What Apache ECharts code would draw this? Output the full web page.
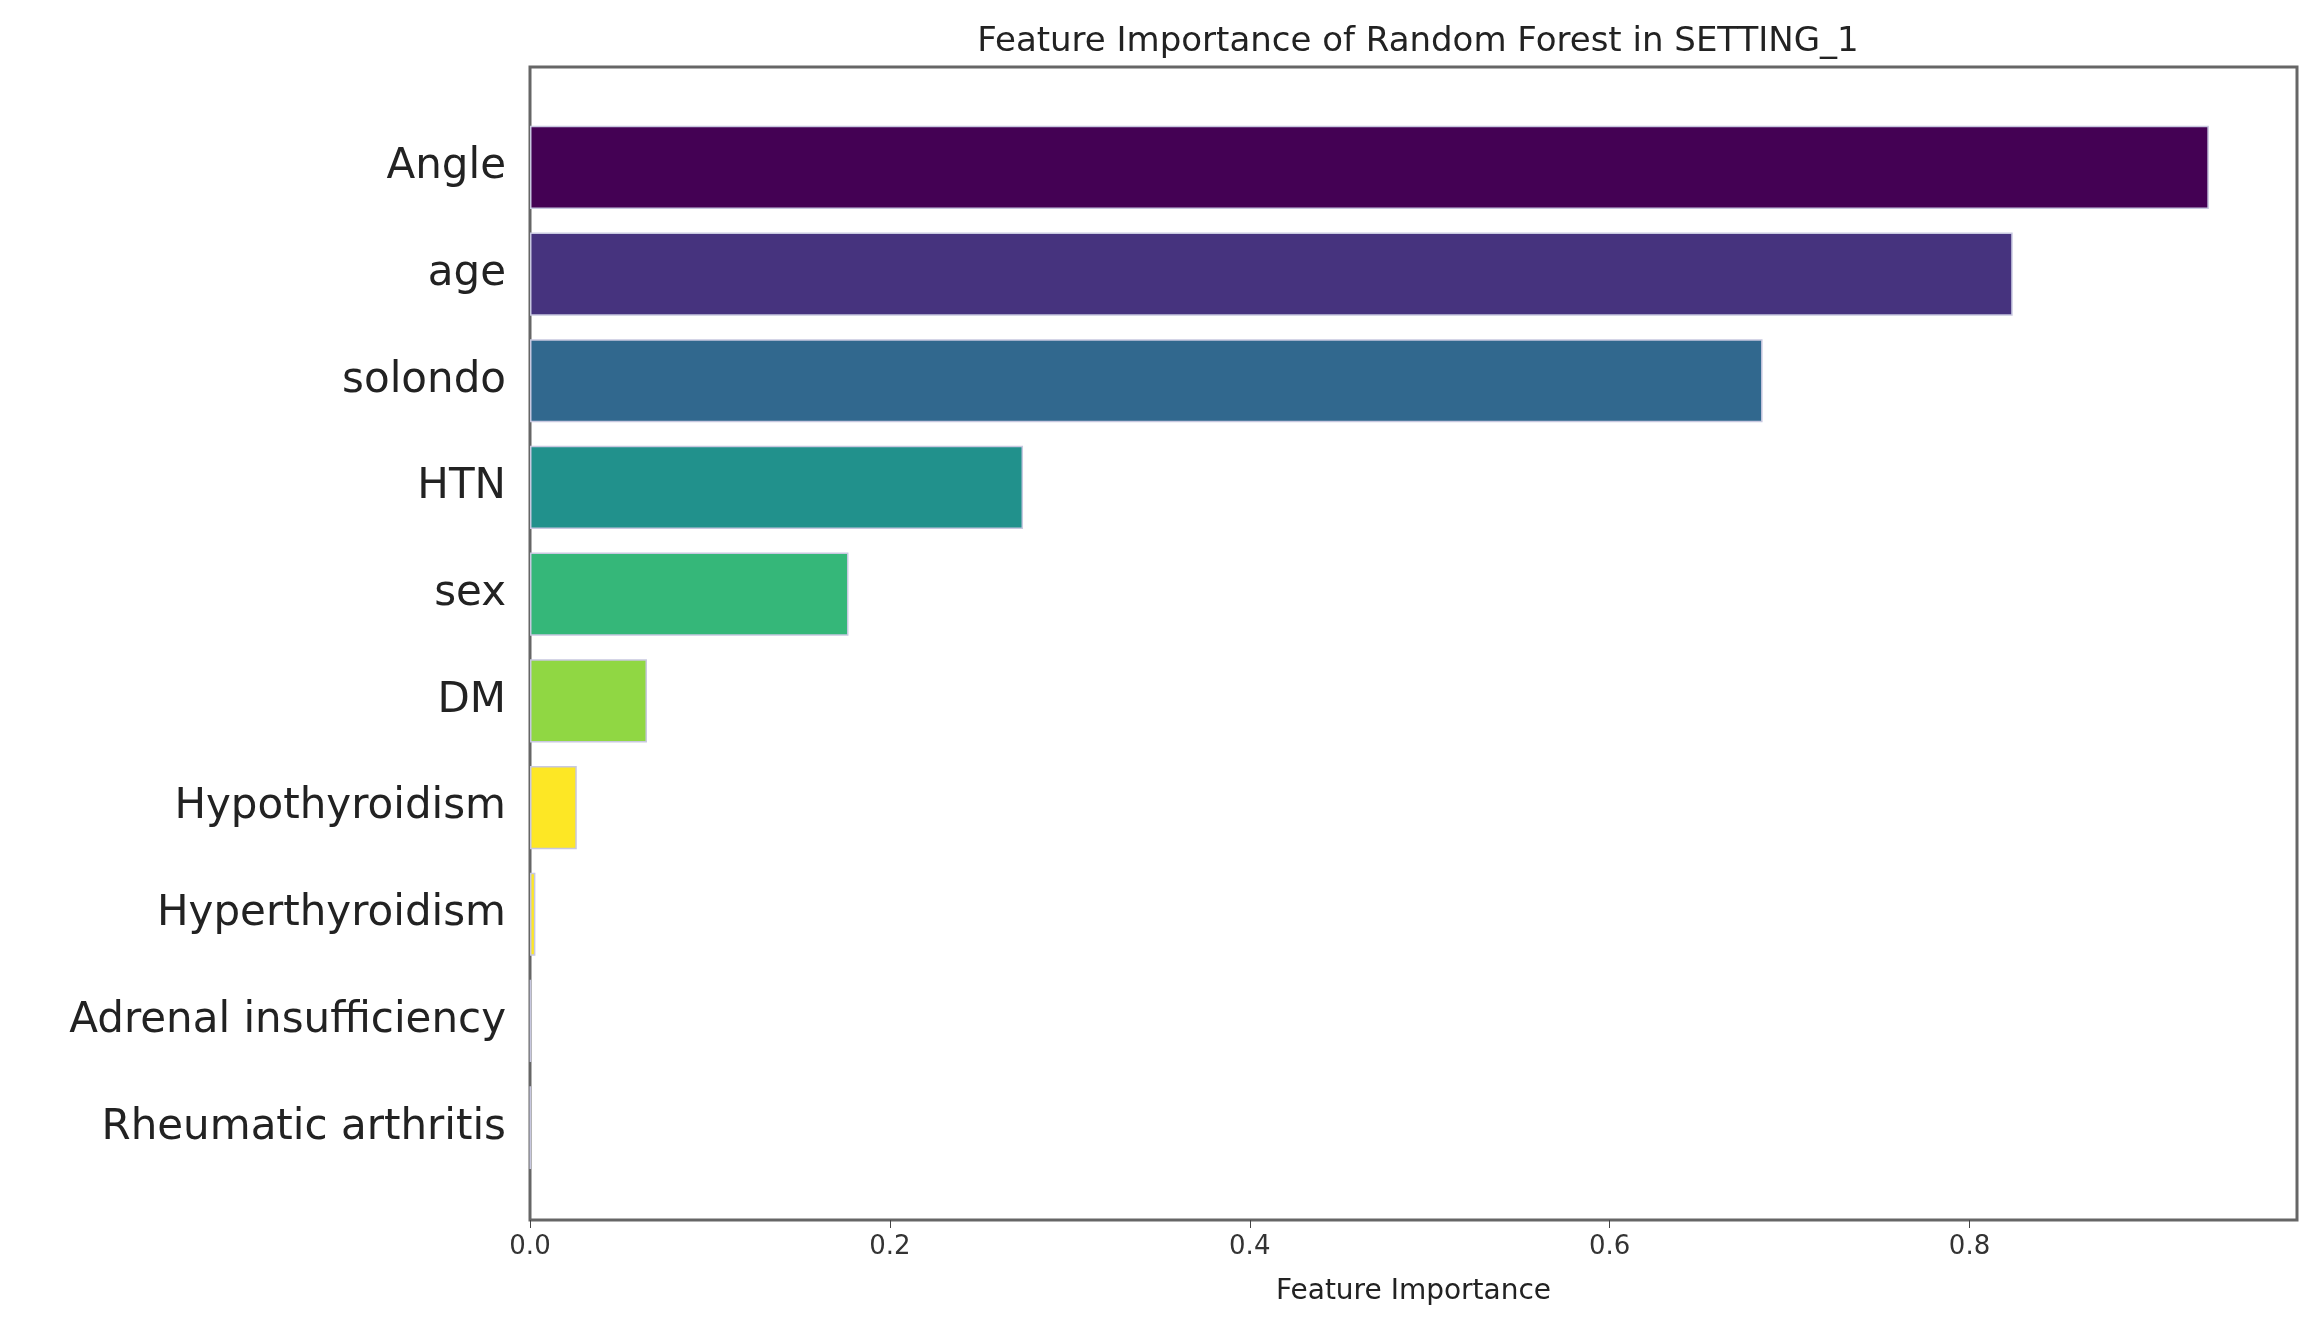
<!DOCTYPE html>
<html>
<head>
<meta charset="utf-8">
<script src="https://cdn.jsdelivr.net/npm/echarts@6/dist/echarts.min.js"></script>
<style>html,body{margin:0;padding:0;background:#fff}#chart{width:2315px;height:1340px}</style>
</head>
<body>
<div id="chart"></div>
<script>
// top to bottom in the picture
const features = ['Angle', 'age', 'solondo', 'HTN', 'sex', 'DM', 'Hypothyroidism', 'Hyperthyroidism', 'Adrenal insufficiency', 'Rheumatic arthritis'];
const importance = [0.933, 0.824, 0.685, 0.274, 0.177, 0.065, 0.026, 0.003, 0.0005, 0.0003];
const barColors = ['#440154', '#46337e', '#31688e', '#21918c', '#35b779', '#90d743', '#fde725', '#fde725', '#fde725', '#fde725'];
const xTicks = [0, 0.2, 0.4, 0.6, 0.8];

var myChart = echarts.init(document.getElementById('chart'));

var option = {
    animation: false,
    title: {
        text: 'Feature Importance of Random Forest in SETTING_1',
        left: 1413, top: 20, textAlign: 'center',
        textStyle: { fontFamily: 'DejaVu Sans', fontSize: 34, fontWeight: 'normal', color: '#222' }
    },
    grid: { left: 530, right: 18, top: 114, bottom: 159 },
    xAxis: {
        type: 'value', min: 0, max: 0.982, interval: 0.2, offset: 39,
        name: 'Feature Importance', nameLocation: 'middle', nameGap: 58,
        nameTextStyle: { fontFamily: 'DejaVu Sans', fontSize: 28, color: '#222' },
        axisLine: { show: false },
        axisTick: { show: true, length: 8, lineStyle: { color: '#444' } },
        splitLine: { show: false },
        axisLabel: {
            showMaxLabel: false, margin: 14,
            fontFamily: 'DejaVu Sans', fontSize: 26, color: '#333',
            formatter: v => xTicks.some(t => Math.abs(t - v) < 1e-6) ? v.toFixed(1) : ''
        }
    },
    yAxis: {
        type: 'category', inverse: true, data: features,
        axisLine: { show: false },
        axisTick: { show: false },
        axisLabel: { fontFamily: 'DejaVu Sans', fontSize: 42, color: '#222', margin: 24 }
    },
    series: [{
        type: 'bar',
        barCategoryGap: '22%',
        data: importance.map((v, i) => ({ value: v, itemStyle: { color: barColors[i], borderColor: '#c8c8e0', borderWidth: 1.5 } }))
    }],
    graphic: [{
        type: 'rect', silent: true,
        shape: { x: 530, y: 67, width: 1767, height: 1153 },
        style: { fill: 'none', stroke: '#666', lineWidth: 3 }
    }]
};

myChart.setOption(option);
</script>
</body>
</html>
